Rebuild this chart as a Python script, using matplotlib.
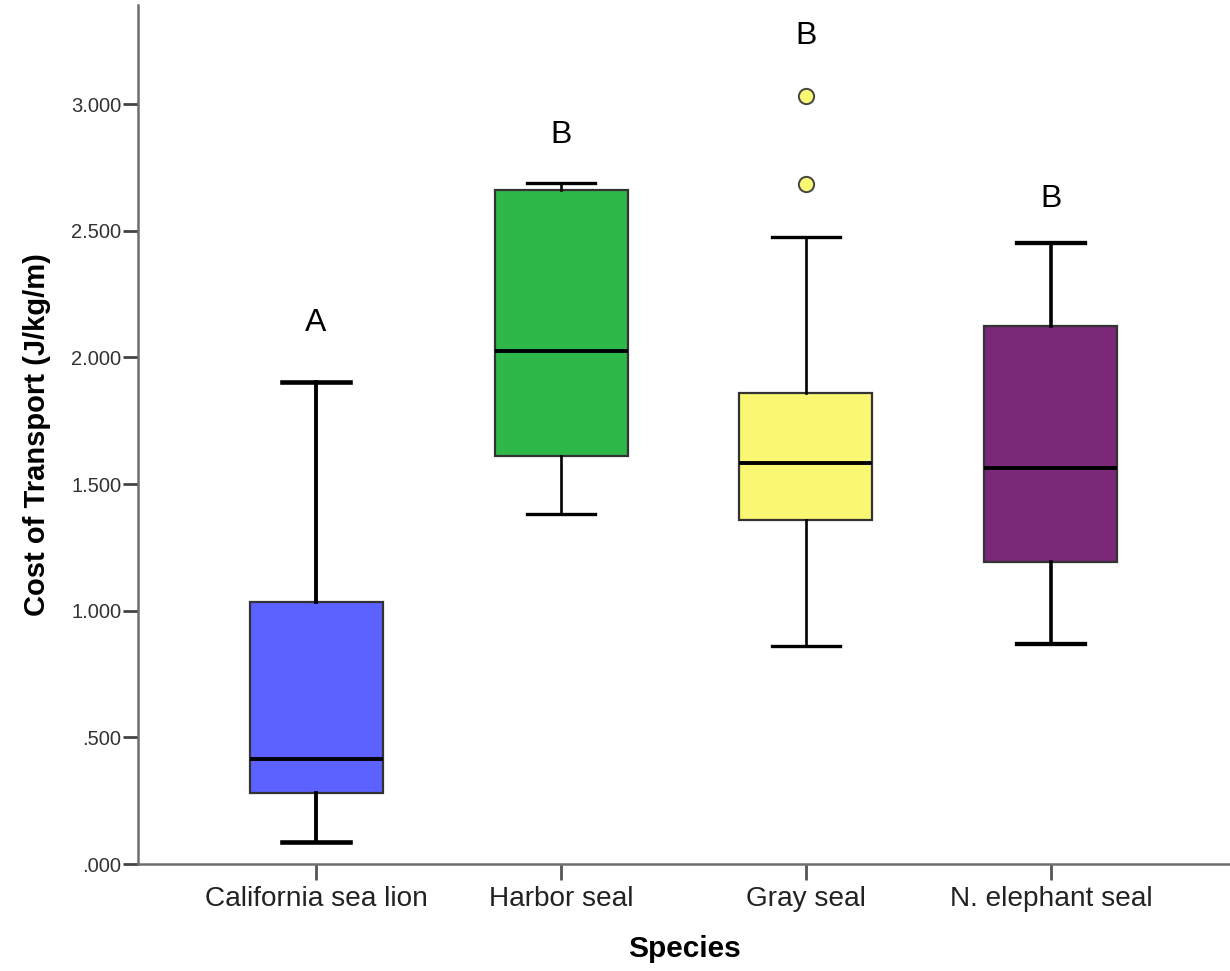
import matplotlib

matplotlib.use("Agg")
import matplotlib.pyplot as plt
from matplotlib.ticker import FuncFormatter, MultipleLocator

plt.rcParams["font.family"] = ["Liberation Sans", "DejaVu Sans"]

# Box summaries (J/kg/m)
species = ["California sea lion", "Harbor seal", "Gray seal", "N. elephant seal"]
whisker_low = [0.088, 1.381, 0.860, 0.870]
q1 = [0.280, 1.611, 1.358, 1.192]
median = [0.415, 2.027, 1.584, 1.565]
q3 = [1.036, 2.661, 1.858, 2.124]
whisker_high = [1.904, 2.690, 2.477, 2.450]
outliers = [[], [], [2.684, 3.032], []]

# significance letters and where they sit
letters = ["A", "B", "B", "B"]
letter_y = [2.136, 2.878, 3.269, 2.625]

colors = ["#5c62ff", "#2fb84a", "#faf772", "#7b2878"]
whisker_lw = [2.8, 1.9, 1.9, 2.6]

stats = []
for i, name in enumerate(species):
    stats.append(dict(label=name, whislo=whisker_low[i], q1=q1[i], med=median[i],
                      q3=q3[i], whishi=whisker_high[i], fliers=outliers[i]))

fig = plt.figure(figsize=(12.3, 9.71), dpi=100)
ax = fig.add_axes([138 / 1230, 1 - 864 / 971, 1092 / 1230, 859 / 971])

pos = list(range(len(species)))
for i, st in enumerate(stats):
    ax.bxp([st], positions=[pos[i]], widths=0.543, patch_artist=True,
           showfliers=True, capwidths=0.275,
           boxprops=dict(facecolor=colors[i], edgecolor="#333333", linewidth=1.6),
           medianprops=dict(color="black", linewidth=2.8),
           whiskerprops=dict(color="black", linewidth=whisker_lw[i]),
           capprops=dict(color="black", linewidth=whisker_lw[i] + 0.5),
           flierprops=dict(marker="o", markerfacecolor=colors[i], markeredgecolor="#444444",
                           markersize=11, markeredgewidth=1.4))

for i, (lt, y) in enumerate(zip(letters, letter_y)):
    ax.text(pos[i], y, lt, ha="center", va="center", fontsize=23, color="black")

ax.set_xlim(-0.727, 3.731)
ax.set_ylim(0, 3.391)
ax.set_xticks(pos)
ax.set_xticklabels(species)
ax.yaxis.set_major_locator(MultipleLocator(0.5))
ax.yaxis.set_major_formatter(FuncFormatter(lambda v, _: f"{v:.3f}".lstrip("0") if v < 1 else f"{v:.3f}"))

for side in ("top", "right"):
    ax.spines[side].set_visible(False)
for side in ("left", "bottom"):
    ax.spines[side].set_color("#6e6e6e")
    ax.spines[side].set_linewidth(1.8)

ax.tick_params(axis="y", length=11, width=2, color="#444444", pad=1,
               labelsize=14.5, labelcolor="#333333")
ax.tick_params(axis="x", length=11.5, width=2, color="#555555", pad=4,
               labelsize=20.2, labelcolor="#222222")

ax.set_ylabel("Cost of Transport (J/kg/m)", fontsize=21, fontweight="bold")
ax.yaxis.set_label_coords(-0.08, 0.5)
ax.set_xlabel("Species", fontsize=21.5, fontweight="bold")
ax.xaxis.set_label_coords(0.5, -0.083)

fig.savefig("out.png", dpi=100)
